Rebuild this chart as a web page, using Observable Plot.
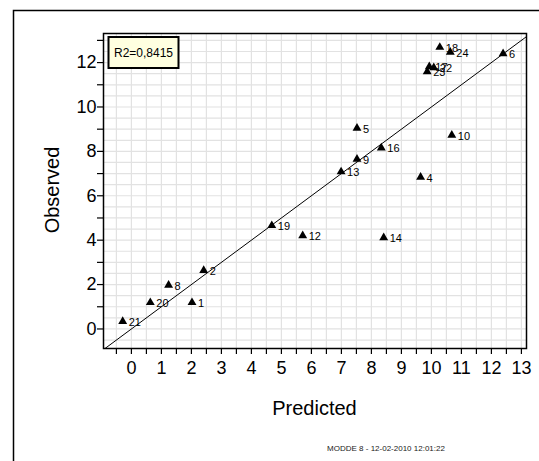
<!DOCTYPE html>
<html>
<head>
<meta charset="utf-8">
<script src="https://cdn.jsdelivr.net/npm/d3@7"></script>
<script src="https://cdn.jsdelivr.net/npm/@observablehq/plot@0.6"></script>
<style>
  html, body { margin: 0; padding: 0; background: #fff; }
  #chart svg { display: block; }
</style>
</head>
<body>
<div id="chart"></div>
<script>
// Observed vs. predicted response, one triangle per experiment
const runIds    = [21, 20, 8, 1, 2, 19, 12, 13, 9, 5, 16, 14, 4, 10, 23, 17, 22, 18, 24, 6];
const predicted = [-0.29, 0.63, 1.24, 2.02, 2.41, 4.68, 5.71, 6.99, 7.52, 7.52, 8.33, 8.41, 9.64, 10.68, 9.86, 9.93, 10.08, 10.28, 10.63, 12.39];
const observed  = [0.34, 1.19, 1.97, 1.19, 2.64, 4.66, 4.20, 7.08, 7.65, 9.05, 8.16, 4.11, 6.84, 8.73, 11.59, 11.82, 11.77, 12.69, 12.47, 12.40];

const r2Text = "R2=0,8415";
const footerText = "MODDE 8 - 12-02-2010 12:01:22";

// Axis ticks and grid
const xLabels = d3.range(0, 14, 1);          // 0 … 13
const xTicks  = d3.range(-0.5, 13.01, 0.5);  // tick every half unit
const yLabels = d3.range(0, 13, 2);          // 0 … 12
const yTicks  = d3.range(0, 13.01, 1);
const gridX   = d3.range(-0.5, 13.01, 0.5);
const gridY   = d3.range(-0.5, 13.01, 0.5);

const xDomain = [-0.93, 13.17];
const yDomain = [-0.88, 13.31];
const diagonal = [[-0.93, -0.93], [13.31, 13.31]];

const points = runIds.map((id, i) => ({id, predicted: predicted[i], observed: observed[i]}));

const W = 539, H = 461;
const font = "'Liberation Sans', Arial, Helvetica, sans-serif";

const chart = Plot.plot({
  width: W,
  height: H,
  marginLeft: 103,
  marginRight: 13,
  marginTop: 33,
  marginBottom: 113,
  style: {fontFamily: font, background: "#fff", color: "#000"},
  x: {domain: xDomain},
  y: {domain: yDomain},
  marks: [
    Plot.ruleX(gridX, {stroke: "#e2e2e2", strokeWidth: 1.2}),
    Plot.ruleY(gridY, {stroke: "#e2e2e2", strokeWidth: 1.2}),
    Plot.line(diagonal, {x: d => d[0], y: d => d[1], stroke: "#000", strokeWidth: 1, clip: true}),
    Plot.frame({stroke: "#000", strokeWidth: 1.5}),
    // tick marks
    Plot.axisX({ticks: xTicks, tickFormat: () => "", tickSize: 6, label: null, strokeWidth: 1.2}),
    Plot.axisY({ticks: yTicks, tickFormat: () => "", tickSize: 6, label: null, strokeWidth: 1.2}),
    // tick labels
    Plot.axisX({ticks: xLabels, tickSize: 0, tickPadding: 13, fontSize: 18, label: null, tickFormat: d => String(d)}),
    Plot.axisY({ticks: yLabels, tickSize: 0, tickPadding: 7, fontSize: 18, label: null, tickFormat: d => String(d)}),
    // experiments
    Plot.dot(points, {x: "predicted", y: "observed", symbol: "triangle", r: 3.3, fill: "#000", stroke: "none"}),
    Plot.text(points, {x: "predicted", y: "observed", text: d => String(d.id), textAnchor: "start", dx: 6, dy: 1, fontSize: 11, fill: "#000"})
  ]
});

document.getElementById("chart").appendChild(chart);

// Page decorations: outer panel border, axis titles, R² box and footer
const svg = d3.select(chart);
const deco = svg.append("g").attr("font-family", font);

deco.append("path")
  .attr("d", `M13.5,${H} V10.5 H${W}`)
  .attr("fill", "none").attr("stroke", "#000").attr("stroke-width", 1.5);

deco.append("text")
  .attr("x", 314.5).attr("y", 408)
  .attr("text-anchor", "middle").attr("dominant-baseline", "central")
  .attr("font-size", 20).text("Predicted");

deco.append("text")
  .attr("transform", "translate(52,190) rotate(-90)")
  .attr("text-anchor", "middle").attr("dominant-baseline", "central")
  .attr("font-size", 20).text("Observed");

deco.append("rect")
  .attr("x", 108.5).attr("y", 37).attr("width", 70).attr("height", 31)
  .attr("fill", "#ffffe0").attr("stroke", "#000").attr("stroke-width", 2);
deco.append("text")
  .attr("x", 143.5).attr("y", 52.5)
  .attr("text-anchor", "middle").attr("dominant-baseline", "central")
  .attr("font-size", 12).text(r2Text);

deco.append("text")
  .attr("x", 386).attr("y", 448)
  .attr("text-anchor", "middle").attr("dominant-baseline", "central")
  .attr("font-size", 8).attr("fill", "#222").text(footerText);
</script>
</body>
</html>
